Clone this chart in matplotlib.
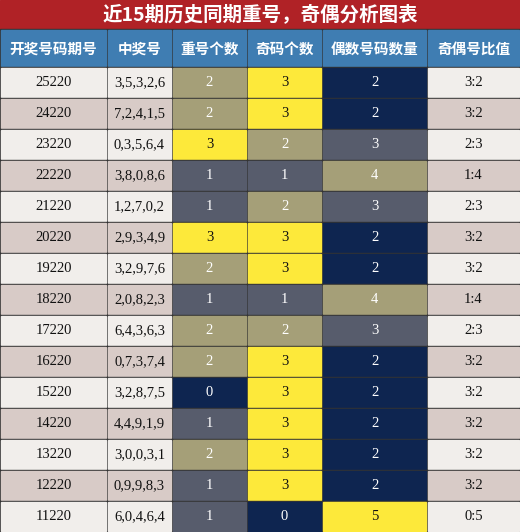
import matplotlib.pyplot as plt
from matplotlib.patches import Rectangle

title = "近15期历史同期重号，奇偶分析图表"
headers = ["开奖号码期号", "中奖号", "重号个数", "奇码个数", "偶数号码数量", "奇偶号比值"]
periods = ["25220", "24220", "23220", "22220", "21220", "20220", "19220", "18220",
           "17220", "16220", "15220", "14220", "13220", "12220", "11220"]
numbers = ["3,5,3,2,6", "7,2,4,1,5", "0,3,5,6,4", "3,8,0,8,6", "1,2,7,0,2", "2,9,3,4,9",
           "3,2,9,7,6", "2,0,8,2,3", "6,4,3,6,3", "0,7,3,7,4", "3,2,8,7,5", "4,4,9,1,9",
           "3,0,0,3,1", "0,9,9,8,3", "6,0,4,6,4"]
repeats = [2, 2, 3, 1, 1, 3, 2, 1, 2, 2, 0, 1, 2, 1, 1]
odds = [3, 3, 2, 1, 2, 3, 3, 1, 2, 3, 3, 3, 3, 3, 0]
evens = [2, 2, 3, 4, 3, 2, 2, 4, 3, 2, 2, 2, 2, 2, 5]
ratios = ["3:2", "3:2", "2:3", "1:4", "2:3", "3:2", "3:2", "1:4", "2:3", "3:2", "3:2",
          "3:2", "3:2", "3:2", "0:5"]

W, H = 520, 532
col_x = [0, 107, 172, 247, 322, 427, 520]
title_h = 29
head_top, head_bot = 30, 67
row_h = (H - head_bot) / len(periods)

NAVY, SLATE, KHAKI, YELLOW = "#0e2550", "#575c6c", "#a59f78", "#fde93a"
level_col = [NAVY, SLATE, KHAKI, YELLOW]

fig = plt.figure(figsize=(W / 100, H / 100), dpi=100)
ax = fig.add_axes([0, 0, 1, 1])
ax.set_xlim(0, W)
ax.set_ylim(H, 0)
ax.axis("off")

cjk = ["Noto Sans CJK SC", "DejaVu Sans"]
serif = ["Liberation Serif", "DejaVu Serif"]

ax.add_patch(Rectangle((0, 0), W, title_h, color="#b02226"))
ax.text(W / 2, title_h / 2, title, color="white", fontsize=14, fontweight="bold",
        ha="center", va="center", family=cjk)
ax.add_patch(Rectangle((0, title_h), W, head_bot - title_h, color="#333333"))
for i, h in enumerate(headers):
    x0, x1 = col_x[i], col_x[i + 1]
    ax.add_patch(Rectangle((x0 + 1, head_top), x1 - x0 - 2, head_bot - head_top - 1, color="#3f7db2"))
    ax.text((x0 + x1) / 2, (head_top + head_bot) / 2, h, color="white", fontsize=10.5,
            fontweight="bold", ha="center", va="center", family=cjk)

for r in range(len(periods)):
    y0 = head_bot + r * row_h
    bg = "#f1eeeb" if r % 2 == 0 else "#d8cbc7"
    ax.add_patch(Rectangle((0, y0), W, row_h, color="#333333"))
    cells = [(periods[r], bg, "#111111"), (numbers[r], bg, "#111111")]
    for v, offset in ((repeats[r], 0), (odds[r], 0), (evens[r], 2)):
        c = level_col[v - offset]
        cells.append((str(v), c, "#111111" if c == YELLOW else "white"))
    cells.append((ratios[r], bg, "#111111"))
    for i, (txt, c, tc) in enumerate(cells):
        x0, x1 = col_x[i], col_x[i + 1]
        ax.add_patch(Rectangle((x0 + 1, y0 + 1), x1 - x0 - 2, row_h - 2, color=c))
        ax.text((x0 + x1) / 2, y0 + row_h / 2, txt, color=tc, fontsize=10.5,
                ha="center", va="center", family=serif)

fig.savefig("out.png", dpi=100)
